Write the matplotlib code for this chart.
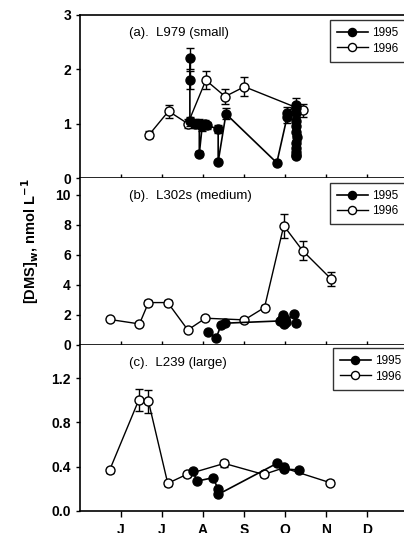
import matplotlib
matplotlib.use("Agg")
import matplotlib.pyplot as plt
from matplotlib.ticker import FormatStrFormatter

plt.rcParams['font.family'] = ['Liberation Sans', 'DejaVu Sans']

# x in month units (6 = mid June, 7 = mid July, ...)
month_labels = ['J', 'J', 'A', 'S', 'O', 'N', 'D']
month_pos = [6, 7, 8, 9, 10, 11, 12]

# Panel (a) L979 (small)
a96_x = [6.69, 7.16, 7.63, 8.07, 8.54, 9.01, 10.43]
a96_y = [0.80, 1.23, 1.00, 1.80, 1.50, 1.68, 1.25]
a96_e = [0.06, 0.12, 0.08, 0.17, 0.13, 0.17, 0.12]
a95_x = [7.68, 7.68, 7.68, 7.80, 7.91, 7.91, 7.98, 8.05, 8.10, 8.37, 8.37, 8.56,
         9.80, 10.05, 10.05, 10.27, 10.27, 10.27, 10.27, 10.27, 10.27, 10.30,
         10.27, 10.27, 10.27, 10.27, 10.27]
a95_y = [2.20, 1.80, 1.04, 1.00, 1.00, 0.45, 0.95, 1.00, 0.97, 0.90, 0.30, 1.18,
         0.28, 1.12, 1.20, 1.35, 1.28, 1.20, 1.05, 0.95, 0.85, 0.75,
         0.65, 0.55, 0.48, 0.42, 0.40]
a95_e = [0.20, 0.17, 0.08, 0.08, 0.08, 0.04, 0.08, 0.06, 0.06, 0.08, 0.03, 0.10,
         0.03, 0.10, 0.10, 0.12, 0.10, 0.10, 0.08, 0.08, 0.07, 0.06,
         0.05, 0.05, 0.04, 0.04, 0.04]

# Panel (b) L302s (medium)
b96_x = [5.72, 6.45, 6.67, 7.14, 7.63, 8.06, 9.01, 9.50, 9.97, 10.43, 11.12]
b96_y = [1.70, 1.40, 2.82, 2.82, 1.00, 1.78, 1.67, 2.49, 7.93, 6.27, 4.40]
b96_e = [0.10, 0.10, 0.15, 0.15, 0.08, 0.12, 0.10, 0.15, 0.80, 0.65, 0.45]
b95_x = [8.13, 8.32, 8.44, 8.54, 9.88, 9.92, 9.95, 9.97, 10.00, 10.03, 10.21, 10.27]
b95_y = [0.85, 0.45, 1.33, 1.45, 1.60, 1.75, 2.00, 1.40, 1.70, 1.55, 2.07, 1.45]

# Panel (c) L239 (large)
c96_x = [5.72, 6.43, 6.67, 7.14, 7.60, 8.52, 9.48, 9.97, 11.10]
c96_y = [0.367, 1.00, 0.99, 0.25, 0.33, 0.43, 0.33, 0.39, 0.256]
c96_e = [0.02, 0.10, 0.10, 0.02, 0.02, 0.03, 0.02, 0.02, 0.02]
c95_x = [7.76, 7.85, 8.24, 8.37, 8.37, 9.80, 9.97, 9.97, 10.35]
c95_y = [0.36, 0.27, 0.30, 0.20, 0.15, 0.43, 0.40, 0.38, 0.37]

fig = plt.figure(figsize=(4.04, 5.33), dpi=100)
W, H = 404, 533
left = 80 / W
width = (408 - 80) / W

panels = [
    dict(top=15, bot=178, ylim=(0, 3), yticks=[0, 1, 2, 3], fmt='%d',
         title='(a).  L979 (small)', x95=a95_x, y95=a95_y, e95=a95_e,
         x96=a96_x, y96=a96_y, e96=a96_e, leg=(0.762, 0.97)),
    dict(top=178, bot=345, ylim=(0, 11.1), yticks=[0, 2, 4, 6, 8, 10], fmt='%d',
         title='(b).  L302s (medium)', x95=b95_x, y95=b95_y, e95=None,
         x96=b96_x, y96=b96_y, e96=b96_e, leg=(0.762, 0.972)),
    dict(top=345, bot=511, ylim=(0, 1.5), yticks=[0.0, 0.4, 0.8, 1.2], fmt='%.1f',
         title='(c).  L239 (large)', x95=c95_x, y95=c95_y, e95=None,
         x96=c96_x, y96=c96_y, e96=c96_e, leg=(0.771, 0.982)),
]

for i, p in enumerate(panels):
    ax = fig.add_axes([left, 1 - p['bot'] / H, width, (p['bot'] - p['top']) / H])
    ax.set_xlim(5.0, 13.0)
    ax.set_ylim(*p['ylim'])
    ax.set_yticks(p['yticks'])
    ax.yaxis.set_major_formatter(FormatStrFormatter(p['fmt']))
    ax.set_xticks(month_pos)
    if i == 2:
        ax.set_xticklabels(month_labels, fontsize=10, fontweight='bold')
        ax.tick_params(axis='x', direction='out', length=4, width=1, pad=5)
    else:
        ax.set_xticklabels([])
        ax.tick_params(axis='x', direction='in', length=3, width=1)
    ax.tick_params(axis='y', direction='out', length=3, width=1, labelsize=10)
    for lab in ax.get_yticklabels():
        lab.set_fontweight('bold')
    for s in ['left', 'bottom', 'top']:
        ax.spines[s].set_linewidth(1.2)
    ax.spines['right'].set_visible(False)
    if i != 0:
        ax.spines['top'].set_visible(False)

    h95 = ax.errorbar(p['x95'], p['y95'], yerr=p['e95'], fmt='-o', color='black',
                      mfc='black', mec='black', ms=6.5, lw=1.2, capsize=3,
                      elinewidth=1, label='1995', zorder=3)
    h96 = ax.errorbar(p['x96'], p['y96'], yerr=p['e96'], fmt='-o', color='black',
                      mfc='white', mec='black', ms=6.5, lw=1.0, capsize=3,
                      elinewidth=1, label='1996', zorder=2)
    ax.text(0.148, (p['bot'] - p['top'] - 18) / (p['bot'] - p['top']), p['title'],
            transform=ax.transAxes, fontsize=9.5, va='center', ha='left')
    leg = ax.legend(handles=[h95[0], h96[0]], labels=['1995', '1996'],
                    loc='upper left', bbox_to_anchor=p['leg'], fontsize=8.5,
                    frameon=True, fancybox=False, edgecolor='black',
                    handlelength=2.6, handletextpad=0.4, borderpad=0.6,
                    borderaxespad=0.0, labelspacing=0.3, markerscale=0.9)
    leg.get_frame().set_linewidth(1.0)

fig.text(30 / W, 1 - 241 / H, r'[DMS]$_\mathbf{w}$, nmol L$^\mathbf{-1}$', rotation=90,
         fontsize=10.5, fontweight='bold', ha='center', va='center')

fig.savefig('out.png', dpi=100)
